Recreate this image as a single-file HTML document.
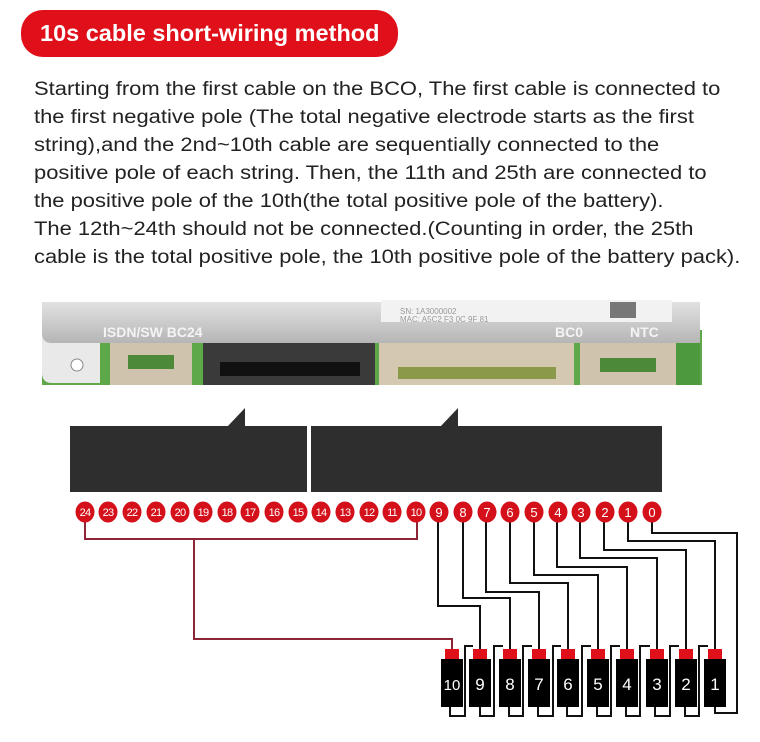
<!DOCTYPE html>
<html><head><meta charset="utf-8"><style>
html,body{margin:0;padding:0;background:#fff;width:760px;height:742px;overflow:hidden}
.pill{position:absolute;left:21px;top:10px;width:377px;height:47px;background:#e0101a;border-radius:22px;color:#fff;font:bold 23.5px "Liberation Sans",sans-serif;line-height:47px;box-sizing:border-box;padding-left:19px;white-space:nowrap}
.p{position:absolute;left:34px;top:76px;font:19px "Liberation Sans",sans-serif;color:#222;line-height:28px;white-space:nowrap;transform:scaleX(1.155);transform-origin:0 0}
svg{position:absolute;left:0;top:0}
</style></head><body>
<div class="pill">10s cable short-wiring method</div>
<div class="p">Starting from the first cable on the BCO, The first cable is connected to<br>the first negative pole (The total negative electrode starts as the first<br>string),and the 2nd~10th cable are sequentially connected to the<br>positive pole of each string. Then, the 11th and 25th are connected to<br>the positive pole of the 10th(the total positive pole of the battery).<br>The 12th~24th should not be connected.(Counting in order, the 25th<br>cable is the total positive pole, the 10th positive pole of the battery pack).</div>
<svg width="760" height="742" viewBox="0 0 760 742" font-family="Liberation Sans, sans-serif">
<defs><linearGradient id="g" x1="0" y1="0" x2="0" y2="1"><stop offset="0" stop-color="#e2e2e2"/><stop offset="1" stop-color="#b5b5b5"/></linearGradient></defs>
<rect x="42" y="330" width="660" height="55" fill="#5fa84a"/>
<rect x="676" y="302" width="24" height="83" fill="#4d9a3e"/>
<path d="M42 330 L100 330 L100 383 L52 383 Q42 383 42 373 Z" fill="#e9e9e9"/>
<circle cx="77" cy="365" r="6" fill="#fff" stroke="#888"/>
<path d="M42 302 L700 302 L700 343 L52 343 Q42 343 42 333 Z" fill="url(#g)"/>
<rect x="381" y="300" width="291" height="22" fill="#f2f2f2"/>
<text x="400" y="314" font-size="8" fill="#999">SN: 1A3000002</text>
<text x="400" y="322" font-size="8" fill="#999">MAC: A5C2 F3 0C 9F 81</text>
<rect x="610" y="302" width="26" height="16" fill="#777"/>
<text x="103" y="337" font-size="14" font-weight="bold" fill="#f4f4f4">ISDN/SW BC24</text>
<text x="555" y="337" font-size="14" font-weight="bold" fill="#f4f4f4">BC0</text>
<text x="630" y="337" font-size="14" font-weight="bold" fill="#f4f4f4">NTC</text>
<rect x="110" y="343" width="82" height="42" fill="#cfc3ad"/>
<rect x="128" y="355" width="46" height="14" fill="#4c8a3a"/>
<rect x="203" y="343" width="172" height="42" fill="#3a3a3a"/>
<rect x="220" y="362" width="140" height="14" fill="#111"/>
<rect x="379" y="343" width="195" height="42" fill="#d4c8b0"/>
<rect x="398" y="367" width="158" height="12" fill="#8a9a4a"/>
<rect x="580" y="343" width="96" height="42" fill="#cfc3ad"/>
<rect x="600" y="358" width="56" height="14" fill="#4c8a3a"/>
<rect x="70" y="426" width="237" height="66" fill="#2e2e2e"/>
<rect x="311" y="426" width="351" height="66" fill="#2e2e2e"/>
<path d="M227 427 L245 408 L245 427 Z" fill="#2e2e2e"/>
<path d="M440 427 L458 408 L458 427 Z" fill="#2e2e2e"/>
<g fill="none" stroke="#8c2535" stroke-width="2">
<path d="M85 520 V539 H417 V520"/>
<path d="M194 539 V639 H452 V650"/>
</g>
<g fill="none" stroke="#111" stroke-width="2">
<path d="M438 520 V606 H480 V650"/>
<path d="M463 520 V598 H510 V650"/>
<path d="M486 520 V592 H539 V650"/>
<path d="M510 520 V583 H568 V650"/>
<path d="M534 520 V575 H598 V650"/>
<path d="M557 520 V567 H627 V650"/>
<path d="M580 520 V558 H657 V650"/>
<path d="M604 520 V550 H686 V650"/>
<path d="M628 520 V541 H715 V650"/>
<path d="M652 520 V533 H737 V713 H715 V705"/>
<path d="M450 705 V716 H465 V646 H473"/>
<path d="M480 705 V716 H494 V646 H503"/>
<path d="M509 705 V716 H523 V646 H532"/>
<path d="M538 705 V716 H553 V646 H561"/>
<path d="M567 705 V716 H582 V646 H591"/>
<path d="M597 705 V716 H611 V646 H620"/>
<path d="M626 705 V716 H640 V646 H650"/>
<path d="M655 705 V716 H670 V646 H679"/>
<path d="M685 705 V716 H699 V646 H708"/>
</g>
<g font-size="17" fill="#fff" text-anchor="middle">
<rect x="441" y="659" width="22" height="48" fill="#000"/><rect x="445" y="649" width="14" height="10" fill="#e0101a"/><text x="452" y="690" font-size="15">10</text>
<rect x="469" y="659" width="22" height="48" fill="#000"/><rect x="473" y="649" width="14" height="10" fill="#e0101a"/><text x="480" y="690">9</text>
<rect x="499" y="659" width="22" height="48" fill="#000"/><rect x="503" y="649" width="14" height="10" fill="#e0101a"/><text x="510" y="690">8</text>
<rect x="528" y="659" width="22" height="48" fill="#000"/><rect x="532" y="649" width="14" height="10" fill="#e0101a"/><text x="539" y="690">7</text>
<rect x="557" y="659" width="22" height="48" fill="#000"/><rect x="561" y="649" width="14" height="10" fill="#e0101a"/><text x="568" y="690">6</text>
<rect x="587" y="659" width="22" height="48" fill="#000"/><rect x="591" y="649" width="14" height="10" fill="#e0101a"/><text x="598" y="690">5</text>
<rect x="616" y="659" width="22" height="48" fill="#000"/><rect x="620" y="649" width="14" height="10" fill="#e0101a"/><text x="627" y="690">4</text>
<rect x="646" y="659" width="22" height="48" fill="#000"/><rect x="650" y="649" width="14" height="10" fill="#e0101a"/><text x="657" y="690">3</text>
<rect x="675" y="659" width="22" height="48" fill="#000"/><rect x="679" y="649" width="14" height="10" fill="#e0101a"/><text x="686" y="690">2</text>
<rect x="704" y="659" width="22" height="48" fill="#000"/><rect x="708" y="649" width="14" height="10" fill="#e0101a"/><text x="715" y="690">1</text>
</g>
<g fill="#d4101a">
<ellipse cx="85" cy="512" rx="9.5" ry="10.5"/><ellipse cx="108" cy="512" rx="9.5" ry="10.5"/><ellipse cx="132" cy="512" rx="9.5" ry="10.5"/><ellipse cx="156" cy="512" rx="9.5" ry="10.5"/><ellipse cx="180" cy="512" rx="9.5" ry="10.5"/><ellipse cx="203" cy="512" rx="9.5" ry="10.5"/><ellipse cx="227" cy="512" rx="9.5" ry="10.5"/><ellipse cx="250" cy="512" rx="9.5" ry="10.5"/><ellipse cx="274" cy="512" rx="9.5" ry="10.5"/><ellipse cx="298" cy="512" rx="9.5" ry="10.5"/><ellipse cx="321" cy="512" rx="9.5" ry="10.5"/><ellipse cx="345" cy="512" rx="9.5" ry="10.5"/><ellipse cx="369" cy="512" rx="9.5" ry="10.5"/><ellipse cx="392" cy="512" rx="9.5" ry="10.5"/><ellipse cx="416" cy="512" rx="9.5" ry="10.5"/><ellipse cx="439" cy="512" rx="9.5" ry="10.5"/><ellipse cx="463" cy="512" rx="9.5" ry="10.5"/><ellipse cx="487" cy="512" rx="9.5" ry="10.5"/><ellipse cx="510" cy="512" rx="9.5" ry="10.5"/><ellipse cx="534" cy="512" rx="9.5" ry="10.5"/><ellipse cx="558" cy="512" rx="9.5" ry="10.5"/><ellipse cx="581" cy="512" rx="9.5" ry="10.5"/><ellipse cx="605" cy="512" rx="9.5" ry="10.5"/><ellipse cx="628" cy="512" rx="9.5" ry="10.5"/><ellipse cx="652" cy="512" rx="9.5" ry="10.5"/>
</g>
<g fill="#fff" font-size="11" text-anchor="middle" letter-spacing="-0.8">
<text x="85" y="516">24</text><text x="108" y="516">23</text><text x="132" y="516">22</text><text x="156" y="516">21</text><text x="180" y="516">20</text><text x="203" y="516">19</text><text x="227" y="516">18</text><text x="250" y="516">17</text><text x="274" y="516">16</text><text x="298" y="516">15</text><text x="321" y="516">14</text><text x="345" y="516">13</text><text x="369" y="516">12</text><text x="392" y="516">11</text><text x="416" y="516">10</text>
</g>
<g fill="#fff" font-size="13" text-anchor="middle">
<text x="439" y="517">9</text><text x="463" y="517">8</text><text x="487" y="517">7</text><text x="510" y="517">6</text><text x="534" y="517">5</text><text x="558" y="517">4</text><text x="581" y="517">3</text><text x="605" y="517">2</text><text x="628" y="517">1</text><text x="652" y="517">0</text>
</g>
</svg>
</body></html>
